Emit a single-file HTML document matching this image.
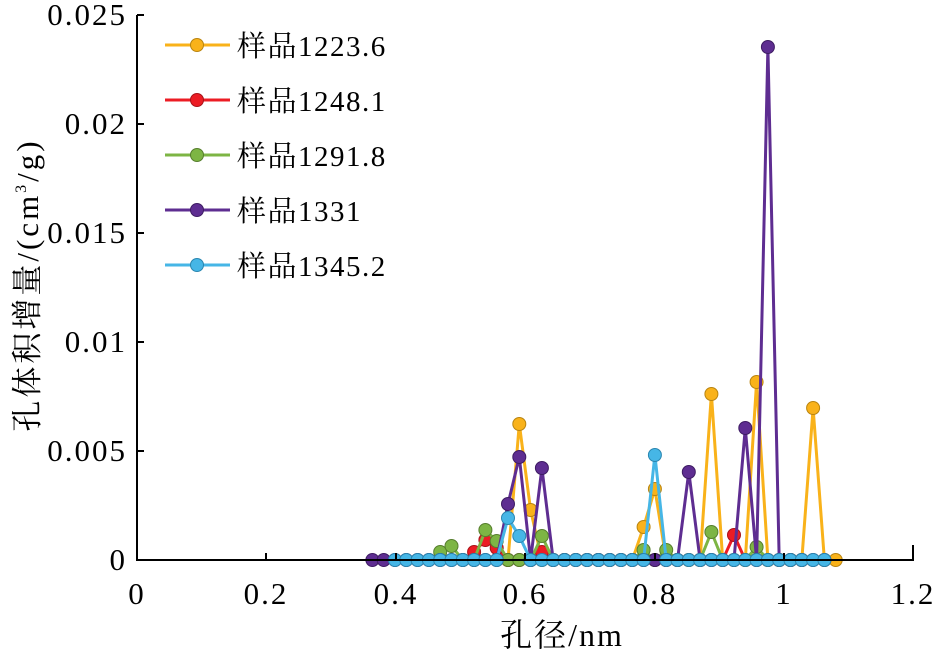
<!DOCTYPE html>
<html><head><meta charset="utf-8"><style>
body{margin:0;background:#fff}
text{font-family:"Liberation Serif","Noto Serif CJK SC",serif;fill:#000}
</style></head><body>
<svg width="939" height="654" viewBox="0 0 939 654" xmlns="http://www.w3.org/2000/svg">
<g id="plot"></g>
<line x1="137" y1="15" x2="137" y2="561" stroke="#000" stroke-width="2"/>
<line x1="136" y1="560" x2="914" y2="560" stroke="#000" stroke-width="2"/>
<g stroke="#000" stroke-width="2">
<line x1="266" y1="560" x2="266" y2="553"/><line x1="396" y1="560" x2="396" y2="553"/><line x1="525" y1="560" x2="525" y2="553"/><line x1="655" y1="560" x2="655" y2="553"/><line x1="784" y1="560" x2="784" y2="553"/><line x1="913" y1="560" x2="913" y2="545"/>
<line x1="137" y1="451" x2="144" y2="451"/><line x1="137" y1="342" x2="144" y2="342"/><line x1="137" y1="233" x2="144" y2="233"/><line x1="137" y1="124" x2="144" y2="124"/><line x1="137" y1="15" x2="144" y2="15"/>
</g>
<g font-size="31" text-anchor="end" letter-spacing="2">
<text x="127" y="570">0</text><text x="127" y="461">0.005</text><text x="127" y="352">0.01</text><text x="127" y="243">0.015</text><text x="127" y="134">0.02</text><text x="127" y="25">0.025</text>
</g>
<g font-size="31" text-anchor="middle" letter-spacing="2">
<text x="137" y="604">0</text><text x="266" y="604">0.2</text><text x="396" y="604">0.4</text><text x="525" y="604">0.6</text><text x="655" y="604">0.8</text><text x="784" y="604">1</text><text x="913" y="604">1.2</text>
</g>
<text x="562" y="646" font-size="32" text-anchor="middle" letter-spacing="2">孔径/nm</text>
<text transform="translate(38,285) rotate(-90)" font-size="31" text-anchor="middle" letter-spacing="3">孔体积增量/(cm<tspan font-size="16" dy="-12">3</tspan><tspan dy="12">/g)</tspan></text>
<g id="legend" font-size="29" letter-spacing="1.5"></g>
</svg>
<script>
const ns="http://www.w3.org/2000/svg";
const g=document.getElementById('plot');
const gx=i=>395+11.3*i;
function mk(spikes,from,to,extra){const pts=[];for(let i=from;i<=to;i++){const x=gx(i);let y=560;for(const s of spikes){if(Math.abs(s[0]-x)<5)y=s[1];}pts.push([x,y]);}if(extra)pts.push(...extra);return pts;}
const S=[
{c:"#F9B21A",s:"#B9840F",p:mk([[520,424],[531,510],[644,527],[655,489],[712,394],[757,382],[815,408]],10,39)},
{c:"#EC1C24",s:"#A81218",p:mk([[475,552],[486,540],[497,548],[542,552],[735,535]],7,36)},
{c:"#7DB544",s:"#567E2D",p:mk([[441,552],[452,546],[486,530],[497,541],[542,536],[644,550],[666,550],[712,532],[757,547]],4,36)},
{c:"#5E2D91",s:"#3E1C63",p:mk([[508,504],[520,457],[542,468],[689,472],[746,428],[769,47]],-2,38)},
{c:"#46B6E6",s:"#2A86B0",p:mk([[508,518],[520,536],[655,455]],0,38)}
];
for(const s of S){const pl=document.createElementNS(ns,'polyline');pl.setAttribute('points',s.p.map(a=>a.join(',')).join(' '));pl.setAttribute('fill','none');pl.setAttribute('stroke',s.c);pl.setAttribute('stroke-width','3');g.appendChild(pl);
for(const a of s.p){const c=document.createElementNS(ns,'circle');c.setAttribute('cx',a[0]);c.setAttribute('cy',a[1]);c.setAttribute('r','6.5');c.setAttribute('fill',s.c);c.setAttribute('stroke',s.s);c.setAttribute('stroke-width','1');g.appendChild(c);}}
const L=document.getElementById('legend');const names=["样品1223.6","样品1248.1","样品1291.8","样品1331","样品1345.2"];
names.forEach((n,k)=>{const y=45+55*k;const s=S[k];
L.insertAdjacentHTML('beforeend',`<line x1="165" y1="${y}" x2="230" y2="${y}" stroke="${s.c}" stroke-width="3"/><circle cx="197" cy="${y}" r="6.5" fill="${s.c}" stroke="${s.s}"/><text x="237" y="${y+11}">${n}</text>`);});
</script>
</body></html>
